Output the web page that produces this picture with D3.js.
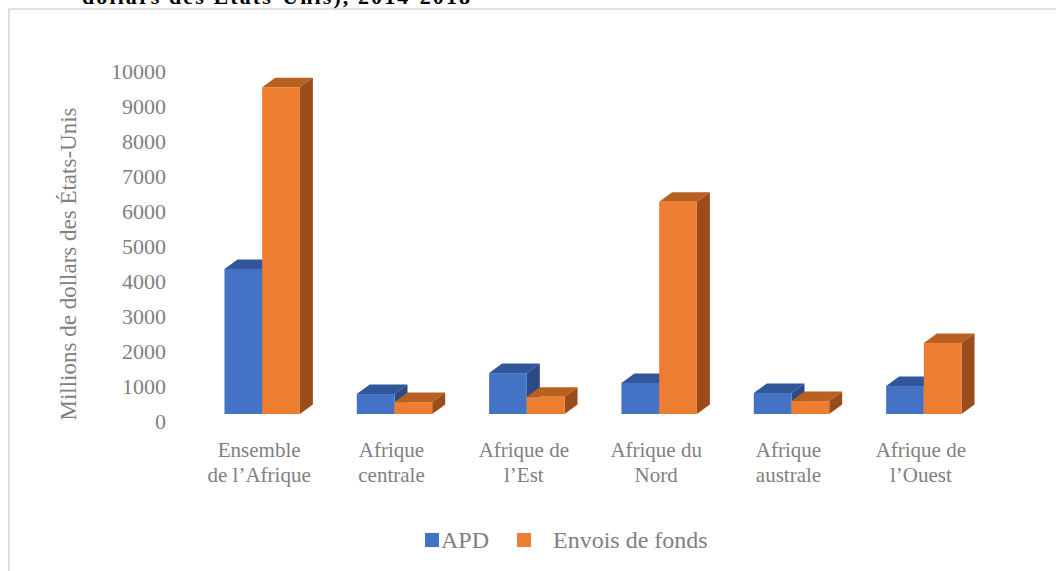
<!DOCTYPE html>
<html>
<head>
<meta charset="utf-8">
<script src="https://cdn.jsdelivr.net/npm/d3@7"></script>
<style>
  body { margin: 0; background: #fff; }
  svg text { font-family: "Liberation Serif", "Times New Roman", serif; }
</style>
</head>
<body>
<div id="chart"></div>
<script>
// values (millions of US dollars)
var categories = ["Ensemble\nde l’Afrique", "Afrique\ncentrale", "Afrique de\nl’Est", "Afrique du\nNord", "Afrique\naustrale", "Afrique de\nl’Ouest"]
var series = ["APD", "Envois de fonds"]
var apd = [4150, 570, 1170, 890, 600, 800]
var envois = [9350, 340, 490, 6070, 370, 2030]
var yTicks = [0, 1000, 2000, 3000, 4000, 5000, 6000, 7000, 8000, 9000, 10000]

var width = 1056, height = 571
var depthX = 13, depthY = -9.5   // 3d offset of the back faces
var floorShift = -7              // front faces sit a little above the axis zero

var colors = {
  "APD": {front: "#4472c4", top: "#32569a", side: "#2b4a86"},
  "Envois de fonds": {front: "#ed7d31", top: "#b8601f", side: "#9a4d1b"}
}

var svg = d3.select('#chart').append('svg')
  .attr('width', width)
  .attr('height', height)

// frame of the chart area (cut off on the right and bottom)
svg.append('path')
  .attr('d', 'M9,' + height + 'V9H' + width)
  .attr('fill', 'none')
  .attr('stroke', '#d9d9d9')
  .attr('stroke-width', 1.6)

// clipped title line from the page above
svg.append('text')
  .attr('x', 82)
  .attr('y', 4)
  .attr('font-size', 22)
  .attr('font-weight', 'bold')
  .attr('fill', '#000')
  .attr('textLength', 388)
  .text('dollars des États-Unis), 2014-2018')

var y = d3.scaleLinear().domain([0, 10000]).range([421, 71.5])

var x0 = d3.scaleBand().domain(categories).range([196, 990])
var groupW = x0.bandwidth() * 0.57
var x1 = d3.scaleBand().domain(series).range([0, groupW])

// y axis labels only, no line
var yAxis = svg.append('g')
  .attr('transform', 'translate(168,0)')
  .call(d3.axisLeft(y).tickValues(yTicks).tickSize(0).tickPadding(2).tickFormat(d3.format('d')))
yAxis.select('.domain').remove()
yAxis.selectAll('text')
  .attr('font-size', 22)
  .attr('fill', '#808080')
  .attr('font-family', '"Liberation Serif", serif')

svg.append('text')
  .attr('transform', 'translate(76,264) rotate(-90)')
  .attr('text-anchor', 'middle')
  .attr('font-size', 23)
  .attr('fill', '#808080')
  .text('Millions de dollars des États-Unis')

// bars, drawn left to right so the orange box covers the blue side face
var values = {"APD": apd, "Envois de fonds": envois}
categories.forEach(function(cat, i) {
  var gx = x0(cat) + (x0.bandwidth() - groupW) / 2
  series.forEach(function(s) {
    var v = values[s][i]
    var x = gx + x1(s), w = x1.bandwidth()
    var yt = y(v) + floorShift, yb = y(0) + floorShift
    var col = colors[s]
    var g = svg.append('g')
    g.append('polygon')
      .attr('points', [[x, yt], [x + w, yt], [x + w + depthX, yt + depthY], [x + depthX, yt + depthY]].join(' '))
      .attr('fill', col.top)
    g.append('polygon')
      .attr('points', [[x + w, yt], [x + w + depthX, yt + depthY], [x + w + depthX, yb + depthY], [x + w, yb]].join(' '))
      .attr('fill', col.side)
    g.append('rect')
      .attr('x', x).attr('y', yt)
      .attr('width', w).attr('height', yb - yt)
      .attr('fill', col.front)
  })

  // category label, two lines
  var lines = cat.split('\n')
  var t = svg.append('text')
    .attr('text-anchor', 'middle')
    .attr('font-size', 21)
    .attr('fill', '#808080')
  lines.forEach(function(line, k) {
    t.append('tspan')
      .attr('x', x0(cat) + x0.bandwidth() / 2 - 3)
      .attr('y', 457 + k * 25)
      .text(line)
  })
})

// legend
var legendX = [425, 517]
var legendTextX = [441, 553]
series.forEach(function(s, j) {
  svg.append('rect')
    .attr('x', legendX[j]).attr('y', 533)
    .attr('width', 14).attr('height', 14)
    .attr('fill', colors[s].front)
  svg.append('text')
    .attr('x', legendTextX[j]).attr('y', 548)
    .attr('font-size', 24)
    .attr('fill', '#808080')
    .text(s)
})
</script>
</body>
</html>
